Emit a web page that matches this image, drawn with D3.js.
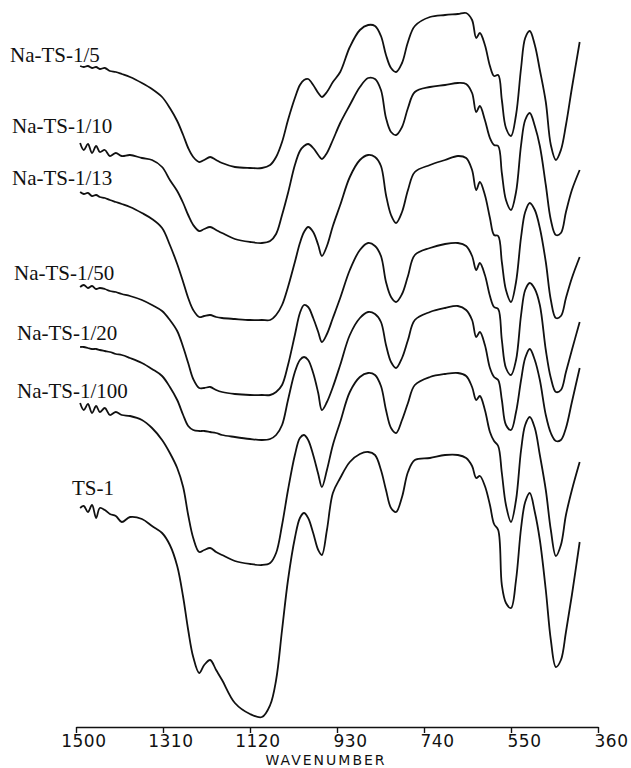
<!DOCTYPE html>
<html>
<head>
<meta charset="utf-8">
<script src="https://cdn.jsdelivr.net/npm/d3@7"></script>
<style>
  body { margin: 0; background: #fff; }
  svg { display: block; }
</style>
</head>
<body>
<svg id="chart" width="631" height="768"></svg>
<script>
// sampling points along the x axis (cm-1)
const wavenumbers = [1491,1483,1474,1465,1456,1448,1437,1426,1413,1400,
  1382,1356,1334,1312,1295,1279,1266,1255,1244,1231,
  1220,1207,1194,1181,1153,1120,1094,1076,1063,1050,
  1037,1022,1011,1002,993,982,971,963,952,939,
  923,902,880,862,847,834,823,812,801,788,
  775,760,727,694,666,648,635,626,618,607,
  596,587,578,570,561,550,539,528,519,509,
  498,487,474,463,452,441,430,417,400]

// stacked transmittance traces, offset units (bigger = lower on the sheet)
const na5 = [13.2,13.4,13.2,13.6,13.4,13.8,13.6,14.2,14.4,14.8,
  15.4,16.6,17.8,19.4,21.6,24.2,27,29.6,31.4,32.4,
  32,31.4,32,32.6,33.4,33.6,33.6,33,31.4,28.4,
  24,19.6,17,16,15.8,17,18.6,19.4,18.4,16.4,
  14.4,9.4,6,5,5.2,7.2,11,13.6,14.4,12.6,
  8.4,5.2,3.4,3,2.8,2.6,4,7.6,6.6,9,
  13.2,15.2,15,20,25.6,27.2,23,13.6,7.6,6.2,
  9,14,20.4,29,32,30,25,17.6,8.4]
const na10 = [28.6,30,28.8,30.6,29.2,30.4,30,31.2,30.6,31.2,
  31,31.6,32,33.4,36,38.2,40.6,43,45,46.2,
  45.8,45.4,46,46.6,47.8,48.4,48.6,48.2,46.8,43,
  38.6,33,30.2,29.2,28.8,29.6,31,31.8,30.6,28,
  24.6,21,17.4,15.6,15.8,18,23.6,26.4,27,25.4,
  21.6,18.4,17.4,17,16.6,16.8,18.6,22.4,21.2,24,
  27.6,29,29.2,34.6,40,42,38.4,29,24,22.6,
  25.2,29.2,37,44,47,46.6,42.4,38,34]
const na13 = [38.4,38.8,38.6,39.2,39,39.4,39.6,40,40.4,40.8,
  41.4,42.6,43.8,45.6,49,52.8,56.4,59.6,62,63.4,
  63.2,63,63.4,63.6,63.8,64,64,64,63,61,
  57.4,52.4,48.6,46.4,45.4,46.4,49,51.2,49.2,45.2,
  41,35.4,32,31,31.4,33.2,39,43,44.6,42.4,
  38,34.4,33,32,31.2,31.6,34,38,36.4,39,
  43.6,47,47.2,52.4,58,60.4,56.4,47.4,42.4,40.6,
  42,45.6,52.4,60,63.6,63.2,59.6,55.6,51.4]
const na50 = [57.4,57,57.6,57.2,57.8,57.6,57.8,58.2,58.4,58.8,
  59.2,60,61,62.2,64,66.2,69.4,72.6,75.8,77.6,
  77.6,77.4,78,78.4,78.8,79,79,79,78.4,77,
  73,67,62.6,61,61.4,63.6,66.4,68.4,66.8,63.6,
  59.6,54,50,48.6,49.2,51.2,56.4,59.4,60.4,58.8,
  55.2,51,49.6,48.8,48.6,49.2,51.2,54,52.6,55,
  59.2,61.4,61.8,68,73.6,75,72,63,58,56.6,
  57.8,61,70,75.6,78.4,78,74.4,70,64.4]
const na20 = [69.4,69.4,69.6,69.8,69.8,70,70.2,70.4,70.8,71,
  71.6,72.6,73.8,75.2,77.4,80,83,85.2,86,86.2,
  86.2,86.4,86.6,87,87.4,87.8,88,87.8,87,85,
  80,74.4,72,71.4,72,74.6,78.6,82,80.4,77.4,
  73,67,63.6,62.4,62.8,64.4,69,72.4,73.6,71.6,
  68,64,62.4,61.6,61.2,62,64,67.4,66.4,69,
  73.6,75.4,76,80,85,86,82.4,76,71.6,69.8,
  72,76,83,86.6,88.2,88,85.6,80.4,73.6]
const na100 = [80.6,82,80.8,82.6,81.2,82.4,81.6,83,82.4,83,
  83.2,84,85.6,88,90.6,93.6,97.4,103,107.6,110.4,
  110,109.6,110.4,111,112.2,112.8,113,112.6,110.6,105,
  98,91,87.6,87,88,91,94.8,97.4,94,89,
  84.4,78.4,75.4,74.6,75,77.2,82,85.6,86.6,84,
  80.6,77,75.4,74.8,74.6,75.2,77.4,80,79.2,82,
  86.4,88.2,89.2,94.6,101,104.4,100,90,85,83.4,
  85.6,91,98,106,111.2,109,103,98,92.4]
const ts1 = [101.6,101.2,102.4,101,103.6,101.6,102,102.8,103.2,104.4,
  103.4,103.8,105.2,106.6,109,113.2,119.4,126,131.4,134.6,
  133,132,134,136,140.6,142.8,143.4,141,136,126,
  116,107.6,103.6,102.6,103.6,106.6,110,111,106,98.6,
  95.6,92.4,90.8,90.4,91,94,98,101.6,102.4,99.4,
  94.4,92,91.6,91,91,91.6,93.2,95.6,95.2,97.2,
  101,104.8,106,117,120.6,121.6,116,105.6,100.4,98.6,
  102.4,108,118,128,133.4,132,126.4,119,108.4]

const sampleNames = ['Na-TS-1/5', 'Na-TS-1/10', 'Na-TS-1/13', 'Na-TS-1/50', 'Na-TS-1/20', 'Na-TS-1/100', 'TS-1']
const tickValues = [1500, 1310, 1120, 930, 740, 550, 360]
const axisTitle = 'WAVENUMBER'

const spectra = [na5, na10, na13, na50, na20, na100, ts1]

const svg = d3.select('#chart')
const axisY = 727

const x = d3.scaleLinear().domain([1500, 360]).range([76, 598])
const y = d3.scaleLinear().domain([0, 145.4]).range([0, axisY])

const line = d3.line()
    .x((d, i) => x(wavenumbers[i]))
    .y(d => y(d))
    .curve(d3.curveCatmullRom.alpha(0.5))

svg.append('g')
    .selectAll('path')
    .data(spectra)
    .enter()
    .append('path')
    .attr('d', line)
    .attr('fill', 'none')
    .attr('stroke', '#111')
    .attr('stroke-width', 1.8)
    .attr('stroke-linejoin', 'round')

// labels sit just above the start of each trace
const labelLeft = [10, 12, 12, 14, 17, 17, 72]
const labelLift = [4, 10, 7, 7, 7, 5, 13]

svg.append('g')
    .selectAll('text')
    .data(sampleNames)
    .enter()
    .append('text')
    .attr('x', (d, i) => labelLeft[i])
    .attr('y', (d, i) => y(spectra[i][0]) - labelLift[i])
    .style('font-family', '"Liberation Serif", "Times New Roman", serif')
    .style('font-size', '21px')
    .attr('fill', '#111')
    .text(d => d)

const axis = d3.axisBottom(x)
    .tickValues(tickValues)
    .tickFormat(d3.format('d'))
    .tickSizeInner(6)
    .tickSizeOuter(0)

const gx = svg.append('g')
    .attr('transform', 'translate(0,' + axisY + ')')
    .call(axis)

gx.select('.domain').attr('stroke', '#111').attr('stroke-width', 1.6)
gx.selectAll('.tick line').attr('stroke', '#111').attr('stroke-width', 1.4)
gx.selectAll('.tick text')
    .attr('x', 30)
    .attr('y', 20)
    .attr('dy', null)
    .attr('text-anchor', 'end')
    .attr('fill', '#111')
    .style('font-family', '"DejaVu Sans", sans-serif')
    .style('font-size', '17px')
    .style('letter-spacing', '0.5px')

svg.append('text')
    .attr('x', 326)
    .attr('y', 765)
    .attr('text-anchor', 'middle')
    .attr('fill', '#111')
    .style('font-family', '"DejaVu Sans", sans-serif')
    .style('font-size', '14px')
    .style('letter-spacing', '2px')
    .text(axisTitle)
</script>
</body>
</html>
